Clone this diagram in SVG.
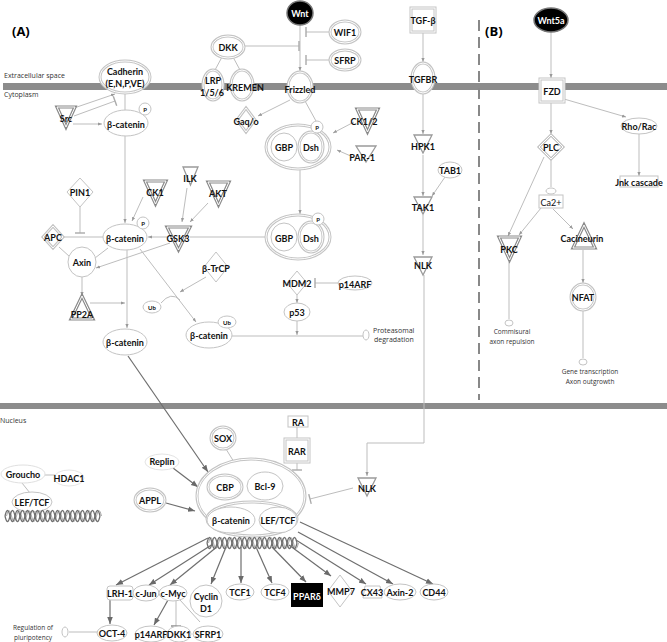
<svg xmlns="http://www.w3.org/2000/svg" width="667" height="642" viewBox="0 0 667 642">
<style>
.t{font-family:Lato,"Liberation Sans",sans-serif;font-weight:bold;font-size:9px;text-anchor:middle;dominant-baseline:central;fill:#111}
.tw{fill:#fff}
.tn{font-weight:normal}
.ts{font-size:6px}
.s{font-family:"Open Sans","Liberation Sans",sans-serif;font-size:6.5px;fill:#333;text-anchor:middle}
.n{fill:#fff;stroke:#c4c4c4;stroke-width:1}
.o{fill:#fff;stroke:#c4c4c4;stroke-width:3}
.i{fill:none;stroke:#fff;stroke-width:1}
.g{fill:#fff;stroke:#8a8a8a;stroke-width:3.2;stroke-linejoin:miter}
.gs{fill:#fff;stroke:#9a9a9a;stroke-width:1.3}
.c{fill:none;stroke:#bdbdbd;stroke-width:1}
.k{fill:none;stroke:#6e6e6e;stroke-width:1.2}
.h{fill:none;stroke:#707070;stroke-width:1.3}
.h2{fill:none;stroke:#a8a8a8;stroke-width:1}
.bar{fill:#8c8c8c}
.lab{font-family:"Open Sans","Liberation Sans",sans-serif;font-size:7px;fill:#333}
</style>
<defs>
<marker id="a" viewBox="0 0 10 10" refX="10" refY="5" markerWidth="4" markerHeight="4" markerUnits="userSpaceOnUse" orient="auto"><path d="M0,1L10,5L0,9z" fill="#999"/></marker>
<marker id="ak" viewBox="0 0 10 10" refX="10" refY="5" markerWidth="7" markerHeight="7" markerUnits="userSpaceOnUse" orient="auto"><path d="M0,1L10,5L0,9z" fill="#6a6a6a"/></marker>
<marker id="b" viewBox="0 0 4 10" refX="2" refY="5" markerWidth="4" markerHeight="11" markerUnits="userSpaceOnUse" orient="auto"><path d="M2,0V10" stroke="#aaa" stroke-width="1.4"/></marker>
<marker id="bk" viewBox="0 0 4 10" refX="2" refY="5" markerWidth="4" markerHeight="11" markerUnits="userSpaceOnUse" orient="auto"><path d="M2,0V10" stroke="#888" stroke-width="1.4"/></marker>
</defs>
<rect width="667" height="642" fill="#fff"/>
<g id="membranes">
<rect class="bar" x="3" y="83" width="664" height="7"/>
<rect class="bar" x="0" y="403" width="667" height="6"/>
<line x1="479" y1="20" x2="479" y2="400" stroke="#888" stroke-width="2" stroke-dasharray="11 6"/>
</g>
<g id="labels">
<text x="12" y="36" font-family="'Open Sans','Liberation Sans',sans-serif" font-weight="bold" font-size="13">(A)</text>
<text x="485" y="36" font-family="'Open Sans','Liberation Sans',sans-serif" font-weight="bold" font-size="13">(B)</text>
<text class="lab" x="4" y="78">Extracellular space</text>
<text class="lab" x="4" y="97">Cytoplasm</text>
<text class="lab" x="0" y="423" font-size="8">Nucleus</text>
</g>
<g id="connectors">
<path class="c" d="M300,25V71" marker-end="url(#a)"/>
<path class="c" d="M331,32H306" marker-end="url(#b)"/>
<path class="c" d="M331,60H306" marker-end="url(#b)"/>
<path class="c" d="M244,46H299" marker-end="url(#b)"/>
<path class="c" d="M222,57L215,70"/>
<path class="c" d="M233,57L240,70"/>
<path class="c" d="M290,100L258,116" marker-end="url(#a)"/>
<path class="c" d="M305,101L316,121"/>
<path class="c" d="M354,122L333,133" marker-end="url(#a)"/>
<path class="c" d="M353,157L337,150" marker-end="url(#a)"/>
<path class="c" d="M300,170V214" marker-end="url(#a)"/>
<path class="c" d="M423,32V62" marker-end="url(#a)"/>
<path class="c" d="M423,93V134" marker-end="url(#a)"/>
<path class="c" d="M423,155V196" marker-end="url(#a)"/>
<path class="c" d="M445,177L432,196" marker-end="url(#a)"/>
<path class="c" d="M423,215V255" marker-end="url(#a)"/>
<path class="c" d="M424,275V443H367V476" marker-end="url(#a)"/>
<path class="c" d="M74,108L115,94" marker-end="url(#a)"/>
<path class="c" d="M74,116L115,101" marker-end="url(#b)"/>
<path class="c" d="M73,124H102" marker-end="url(#a)"/>
<path class="c" d="M125,94V223" marker-end="url(#a)"/>
<path class="c" d="M143,197L132,221" marker-end="url(#a)"/>
<path class="c" d="M187,188L182,222" marker-end="url(#a)"/>
<path class="c" d="M208,203L190,222" marker-end="url(#a)"/>
<path class="c" d="M168,237H148" marker-end="url(#a)"/>
<path class="c" d="M266,237H190"/>
<path class="c" d="M80,207V233" marker-end="url(#b)"/>
<path class="c" d="M63,237H103"/>
<path class="c" d="M59,247L70,257"/>
<path class="c" d="M108,248L95,258"/>
<path class="c" d="M170,243L96,268" marker-end="url(#a)"/>
<path class="c" d="M82,277V296" marker-end="url(#a)"/>
<path class="c" d="M90,303H125" marker-end="url(#a)"/>
<path class="c" d="M127,250V328" marker-end="url(#a)"/>
<path class="c" d="M140,249L196,322" marker-end="url(#a)"/>
<path class="c" d="M206,277L180,292" marker-end="url(#a)"/>
<path class="c" d="M161,303Q171,291 180,300"/>
<path class="c" d="M232,336H363"/>
<path class="c" d="M339,283H315" marker-end="url(#b)"/>
<path class="c" d="M297,295V303" marker-end="url(#a)"/>
<path class="c" d="M297,321V335" marker-end="url(#a)"/>
<path class="k" d="M128,356L208,472" marker-end="url(#ak)"/>
<path class="c" d="M551,32V78" marker-end="url(#a)"/>
<path class="c" d="M564,99L626,117" marker-end="url(#a)"/>
<path class="c" d="M639,134V176" marker-end="url(#a)"/>
<path class="c" d="M551,102V134" marker-end="url(#a)"/>
<path class="c" d="M551,160V187"/>
<path class="c" d="M544,157L508,236" marker-end="url(#a)"/>
<path class="c" d="M541,208L519,235" marker-end="url(#a)"/>
<path class="c" d="M553,209L573,229" marker-end="url(#a)"/>
<path class="c" d="M509,262V319"/>
<path class="c" d="M583,250V283" marker-end="url(#a)"/>
<path class="c" d="M583,310V358"/>
<path class="c" d="M226,449L234,462"/>
<path class="c" d="M297,427V438"/>
<path class="c" d="M297,462V470" marker-end="url(#b)"/>
<path class="c" d="M353,488L310,499" marker-end="url(#b)"/>
<path class="k" d="M173,468L198,487" marker-end="url(#ak)"/>
<path class="k" d="M166,503L195,511" marker-end="url(#ak)"/>
<path class="c" d="M44,475H55"/>
<path class="c" d="M22,483L30,493"/>
<path class="k" d="M208,538L116,585" marker-end="url(#ak)"/>
<path class="k" d="M213,544L149,585" marker-end="url(#ak)"/>
<path class="k" d="M218,546L170,585" marker-end="url(#ak)"/>
<path class="k" d="M226,547L211,584" marker-end="url(#ak)"/>
<path class="k" d="M241,547V583" marker-end="url(#ak)"/>
<path class="k" d="M256,547L272,583" marker-end="url(#ak)"/>
<path class="k" d="M272,547L306,582" marker-end="url(#ak)"/>
<path class="k" d="M289,545L331,576" marker-end="url(#ak)"/>
<path class="k" d="M296,540L366,584" marker-end="url(#ak)"/>
<path class="k" d="M298,532L393,584" marker-end="url(#ak)"/>
<path class="k" d="M300,522L433,584" marker-end="url(#ak)"/>
<path class="k" d="M110,600V624" marker-end="url(#ak)"/>
<path class="k" d="M168,600L154,625" marker-end="url(#ak)"/>
<path class="c" d="M176,601V626" marker-end="url(#bk)"/>
<path class="c" d="M180,600L200,622"/>
<path class="c" d="M69,632H98"/>
</g>
<g id="Wnt"><ellipse cx="300" cy="13" rx="13" ry="12" fill="#000" stroke="#777" stroke-width="1.5"/><text class="t tw" x="300" y="13">Wnt</text></g>
<g id="WIF1"><ellipse class="o" cx="345" cy="32" rx="15" ry="11"/><ellipse class="i" cx="345" cy="32" rx="15" ry="11"/><text class="t" x="345" y="32">WIF1</text></g>
<g id="SFRP"><ellipse class="o" cx="345" cy="60" rx="15" ry="10"/><ellipse class="i" cx="345" cy="60" rx="15" ry="10"/><text class="t" x="345" y="60">SFRP</text></g>
<g id="DKK"><ellipse class="o" cx="228" cy="47" rx="16" ry="11"/><ellipse class="i" cx="228" cy="47" rx="16" ry="11"/><text class="t" x="228" y="47">DKK</text></g>
<g id="LRP"><ellipse class="o" cx="213" cy="85" rx="10" ry="15"/><ellipse class="i" cx="213" cy="85" rx="10" ry="15"/><text class="t" x="213" y="80">LRP</text><text class="t" x="212" y="92">1/5/6</text></g>
<g id="KREMEN"><ellipse class="o" cx="242" cy="85" rx="11" ry="15"/><ellipse class="i" cx="242" cy="85" rx="11" ry="15"/><text class="t" x="245" y="87">KREMEN</text></g>
<g id="Frizzled"><ellipse class="o" cx="300" cy="87" rx="12" ry="15"/><ellipse class="i" cx="300" cy="87" rx="12" ry="15"/><text class="t" x="300" y="89">Frizzled</text></g>
<g id="TGFb"><rect class="o" x="411" y="8" width="24" height="24"/><rect class="i" x="411" y="8" width="24" height="24"/><text class="t" x="423" y="20">TGF-β</text></g>
<g id="TGFBR"><ellipse class="o" cx="423" cy="78" rx="11" ry="15"/><ellipse class="i" cx="423" cy="78" rx="11" ry="15"/><text class="t" x="423" y="79">TGFBR</text></g>
<g id="Gaqo"><polygon class="o" points="246,108 255,120 246,132 237,120"/><polygon class="i" points="246,108 255,120 246,132 237,120"/><text class="t" x="246" y="121">Gaq/o</text></g>
<g id="complex1"><ellipse class="o" cx="298" cy="147" rx="32" ry="22"/><ellipse class="i" cx="298" cy="147" rx="32" ry="22"/><ellipse class="n" cx="284" cy="147" rx="13" ry="14"/><ellipse class="o" cx="311" cy="147" rx="12" ry="15"/><ellipse class="i" cx="311" cy="147" rx="12" ry="15"/><circle class="n" cx="317" cy="127" r="6"/><text class="t ts" x="317" y="127">P</text><text class="t" x="284" y="147">GBP</text><text class="t" x="311" y="147">Dsh</text></g>
<g id="CK12"><polygon class="g" points="357,109 378,109 367.5,132"/><polygon class="i" points="357,109 378,109 367.5,132"/><text class="t" x="364" y="121">CK1/2</text></g>
<g id="PAR1"><polygon class="gs" points="356,146 376,146 366,162"/><text class="t" x="362" y="157">PAR-1</text></g>
<g id="HPK1"><polygon class="gs" points="414,135 432,135 423,153"/><text class="t" x="423" y="146">HPK1</text></g>
<g id="TAB1"><ellipse class="n" cx="450" cy="170" rx="12" ry="8"/><text class="t" x="450" y="170" font-size="8">TAB1</text></g>
<g id="TAK1"><polygon class="gs" points="414,197 432,197 423,214"/><text class="t" x="423" y="207">TAK1</text></g>
<g id="NLK1"><polygon class="gs" points="414,257 432,257 423,275"/><text class="t" x="423" y="265">NLK</text></g>
<g id="complex2"><ellipse class="o" cx="298" cy="237" rx="32" ry="22"/><ellipse class="i" cx="298" cy="237" rx="32" ry="22"/><ellipse class="n" cx="284" cy="237" rx="13" ry="14"/><ellipse class="o" cx="311" cy="237" rx="12" ry="15"/><ellipse class="i" cx="311" cy="237" rx="12" ry="15"/><circle class="n" cx="318" cy="219" r="6"/><text class="t ts" x="318" y="219">P</text><text class="t" x="284" y="238">GBP</text><text class="t" x="311" y="238">Dsh</text></g>
<g id="MDM2"><polygon class="n" points="297,271 307,283 297,295 287,283"/><text class="t" x="297" y="283">MDM2</text></g>
<g id="p14ARF1"><ellipse class="n" cx="355" cy="283" rx="17" ry="7"/><text class="t" x="355" y="284">p14ARF</text></g>
<g id="p53"><ellipse class="n" cx="297" cy="312" rx="13" ry="9"/><text class="t" x="297" y="312">p53</text></g>
<g id="Cadherin"><ellipse class="o" cx="125" cy="77" rx="25" ry="16"/><ellipse class="i" cx="125" cy="77" rx="25" ry="16"/><text class="t" x="125" y="71">Cadherin</text><text class="t" x="125" y="83">(E,N,P,VE)</text></g>
<g id="Src"><polygon class="g" points="57,107 75,107 66,127"/><polygon class="i" points="57,107 75,107 66,127"/><text class="t" x="66" y="118">Src</text></g>
<g id="bcat1"><ellipse class="n" cx="126" cy="123" rx="22" ry="13"/><circle class="n" cx="145" cy="109" r="6"/><text class="t ts" x="145" y="109">P</text><text class="t" x="126" y="124">β-catenin</text></g>
<g id="PIN1"><polygon class="n" points="80,178 93,192 80,207 67,192"/><text class="t" x="80" y="192">PIN1</text></g>
<g id="CK1"><polygon class="g" points="145,181 166,181 155.5,204"/><polygon class="i" points="145,181 166,181 155.5,204"/><text class="t" x="155" y="192">CK1</text></g>
<g id="ILK"><polygon class="gs" points="183,167 198,167 190.5,185"/><text class="t" x="190" y="178">ILK</text></g>
<g id="AKT"><polygon class="g" points="208,182 229,182 218.5,205"/><polygon class="i" points="208,182 229,182 218.5,205"/><text class="t" x="218" y="193">AKT</text></g>
<g id="bcat2"><ellipse class="n" cx="125" cy="237" rx="22" ry="13"/><circle class="n" cx="143" cy="223" r="6"/><text class="t ts" x="143" y="223">P</text><text class="t" x="125" y="238">β-catenin</text></g>
<g id="GSK3"><polygon class="g" points="167,227 190,227 178.5,250"/><polygon class="i" points="167,227 190,227 178.5,250"/><text class="t" x="178" y="238">GSK3</text></g>
<g id="APC"><polygon class="o" points="53,226 63,237 53,248 43,237"/><polygon class="i" points="53,226 63,237 53,248 43,237"/><text class="t" x="53" y="237">APC</text></g>
<g id="Axin"><ellipse class="n" cx="82" cy="262" rx="14" ry="15"/><text class="t" x="82" y="262">Axin</text></g>
<g id="PP2A"><polygon class="g" points="82,296 93,319 71,319"/><polygon class="i" points="82,296 93,319 71,319"/><text class="t" x="82" y="314">PP2A</text></g>
<g id="bTrCP"><polygon class="n" points="216,252 228,267 216,282 204,267"/><text class="t" x="216" y="268">β-TrCP</text></g>
<g id="Ub1"><ellipse class="n" cx="152" cy="307" rx="9" ry="6"/><text class="t ts" x="152" y="307">Ub</text></g>
<g id="bcat3"><ellipse class="n" cx="125" cy="342" rx="22" ry="13"/><text class="t" x="125" y="342">β-catenin</text></g>
<g id="bcat4"><ellipse class="n" cx="209" cy="335" rx="23" ry="13"/><ellipse class="n" cx="227" cy="322" rx="9" ry="6"/><text class="t ts" x="227" y="322">Ub</text><text class="t" x="209" y="335">β-catenin</text></g>
<g id="proteasome"><ellipse class="n" cx="366" cy="335" rx="3" ry="5"/><text class="lab" x="373" y="333">Proteasomal</text><text class="lab" x="374" y="342">degradation</text></g>
<g id="Wnt5a"><ellipse cx="551" cy="20" rx="17" ry="12" fill="#000" stroke="#777" stroke-width="1.5"/><text class="t tw" x="551" y="20">Wnt5a</text></g>
<g id="FZD"><rect class="o" x="540" y="79" width="24" height="23"/><rect class="i" x="540" y="79" width="24" height="23"/><text class="t" x="552" y="91">FZD</text></g>
<g id="RhoRac"><ellipse class="n" cx="639" cy="126" rx="18" ry="8"/><text class="t" x="639" y="126">Rho/Rac</text></g>
<g id="Jnk"><rect class="n" x="620" y="176" width="38" height="11"/><text class="t" x="639" y="182">Jnk cascade</text></g>
<g id="PLC"><polygon class="o" points="551,135 563,147 551,159 539,147"/><polygon class="i" points="551,135 563,147 551,159 539,147"/><text class="t" x="551" y="147">PLC</text></g>
<g id="Ca2"><ellipse class="n" cx="551" cy="191" rx="5" ry="3"/><rect class="n" x="539" y="195" width="24" height="13"/><text class="t tn" x="551" y="202">Ca2+</text></g>
<g id="PKC"><polygon class="g" points="499,237 520,237 509.5,260"/><polygon class="i" points="499,237 520,237 509.5,260"/><text class="t" x="509" y="249">PKC</text></g>
<g id="Calcineurin"><polygon class="g" points="584,225 595,248 573,248"/><polygon class="i" points="584,225 595,248 573,248"/><text class="t" x="582" y="238">Cacineurin</text></g>
<g id="axonrep"><ellipse class="n" cx="509" cy="323" rx="4" ry="3"/><text class="s" x="512" y="334">Commisural</text><text class="s" x="512" y="344">axon repulsion</text></g>
<g id="NFAT"><ellipse class="o" cx="583" cy="297" rx="12" ry="13"/><ellipse class="i" cx="583" cy="297" rx="12" ry="13"/><text class="t" x="583" y="297">NFAT</text></g>
<g id="genetx"><ellipse class="n" cx="583" cy="362" rx="4" ry="3"/><text class="s" x="590" y="374">Gene transcription</text><text class="s" x="590" y="384">Axon outgrowth</text></g>
<g id="ncomplex"><ellipse class="o" cx="251" cy="496" rx="54" ry="37"/><ellipse class="i" cx="251" cy="496" rx="54" ry="37"/><ellipse class="o" cx="225" cy="487" rx="17" ry="12"/><ellipse class="i" cx="225" cy="487" rx="17" ry="12"/><text class="t" x="225" y="487">CBP</text><ellipse class="n" cx="265" cy="486" rx="18" ry="14"/><text class="t" x="265" y="486">Bcl-9</text><ellipse class="o" cx="252" cy="519" rx="45" ry="17"/><ellipse class="i" cx="252" cy="519" rx="45" ry="17"/><ellipse class="n" cx="231" cy="520" rx="24" ry="13"/><text class="t" x="231" y="520">β-catenin</text><ellipse class="n" cx="278" cy="520" rx="19" ry="13"/><text class="t" x="278" y="520">LEF/TCF</text>
<path class="h2" d="M208.5,543q2.5,-11 5,0t5,0t5,0t5,0t5,0t5,0t5,0t5,0t5,0t5,0t5,0t5,0t5,0t5,0t5,0t5,0t5,0t5,0"/><path class="h" d="M207,543q2.5,-11 5,0t5,0t5,0t5,0t5,0t5,0t5,0t5,0t5,0t5,0t5,0t5,0t5,0t5,0t5,0t5,0t5,0t5,0"/><path class="h" d="M207,543q2.5,11 5,0t5,0t5,0t5,0t5,0t5,0t5,0t5,0t5,0t5,0t5,0t5,0t5,0t5,0t5,0t5,0t5,0t5,0"/></g>
<g id="SOX"><ellipse class="o" cx="223" cy="438" rx="12" ry="11"/><ellipse class="i" cx="223" cy="438" rx="12" ry="11"/><text class="t" x="223" y="438">SOX</text></g>
<g id="RA"><rect class="n" x="288" y="416" width="20" height="11"/><text class="t" x="298" y="422">RA</text></g>
<g id="RAR"><rect class="o" x="285" y="439" width="24" height="23"/><rect class="i" x="285" y="439" width="24" height="23"/><text class="t" x="297" y="451">RAR</text></g>
<g id="NLK2"><polygon class="gs" points="358,478 376,478 367,496"/><text class="t" x="367" y="488">NLK</text></g>
<g id="Replin"><ellipse cx="162" cy="462" rx="17" ry="8" fill="#fff" stroke="#e4e4e4"/><text class="t" x="162" y="461">Replin</text></g>
<g id="APPL"><ellipse class="o" cx="150" cy="500" rx="15" ry="11"/><ellipse class="i" cx="150" cy="500" rx="15" ry="11"/><text class="t" x="150" y="500">APPL</text></g>
<g id="Groucho"><ellipse cx="23" cy="474" rx="22" ry="9" fill="#fff" stroke="#e0e0e0"/><text class="t" x="23" y="474">Groucho</text></g>
<g id="HDAC1"><ellipse cx="69" cy="478" rx="15" ry="8" fill="#fff" stroke="#e6e6e6"/><text class="t" x="69" y="478">HDAC1</text></g>
<g id="LEFTCF1"><ellipse class="n" cx="32" cy="502" rx="20" ry="10"/><text class="t" x="32" y="502">LEF/TCF</text></g>
<g id="DNA1"><path class="h2" d="M6.5,516q2.5,-11 5,0t5,0t5,0t5,0t5,0t5,0t5,0t5,0t5,0t5,0t5,0t5,0t5,0t5,0t5,0t5,0t5,0t5,0t5,0"/><path class="h" d="M5,516q2.5,-11 5,0t5,0t5,0t5,0t5,0t5,0t5,0t5,0t5,0t5,0t5,0t5,0t5,0t5,0t5,0t5,0t5,0t5,0t5,0"/><path class="h" d="M5,516q2.5,11 5,0t5,0t5,0t5,0t5,0t5,0t5,0t5,0t5,0t5,0t5,0t5,0t5,0t5,0t5,0t5,0t5,0t5,0t5,0"/></g>
<g id="LRH1"><rect class="n" x="107" y="586" width="26" height="14" rx="3"/><text class="t" x="120" y="593">LRH-1</text></g>
<g id="cJun"><ellipse class="n" cx="146" cy="593" rx="13" ry="8"/><text class="t" x="146" y="593">c-Jun</text></g>
<g id="cMyc"><ellipse class="n" cx="173" cy="593" rx="14" ry="8"/><text class="t" x="173" y="593">c-Myc</text></g>
<g id="CyclinD1"><ellipse class="n" cx="206" cy="601" rx="16" ry="16"/><text class="t" x="206" y="596">Cyclin</text><text class="t" x="206" y="608">D1</text></g>
<g id="TCF1"><ellipse class="n" cx="240" cy="592" rx="14" ry="8"/><text class="t" x="240" y="592">TCF1</text></g>
<g id="TCF4"><ellipse class="n" cx="275" cy="592" rx="14" ry="8"/><text class="t" x="275" y="592">TCF4</text></g>
<g id="PPARd"><rect x="291" y="583" width="32" height="24" fill="#000"/><text class="t tw" x="307" y="596">PPARδ</text></g>
<g id="MMP7"><polygon class="n" points="340,575 352,591 340,607 328,591"/><text class="t" x="341" y="591">MMP7</text></g>
<g id="CX43"><polygon class="n" points="365,586 380,586 382,598 363,598"/><text class="t" x="372" y="592">CX43</text></g>
<g id="Axin2"><ellipse class="n" cx="400" cy="592" rx="16" ry="8"/><text class="t" x="400" y="592">Axin-2</text></g>
<g id="CD44"><ellipse class="n" cx="434" cy="592" rx="14" ry="8"/><text class="t" x="434" y="592">CD44</text></g>
<g id="OCT4"><ellipse class="n" cx="112" cy="633" rx="15" ry="8"/><text class="t" x="112" y="633">OCT-4</text></g>
<g id="p14ARF2"><ellipse class="n" cx="151" cy="634" rx="16" ry="8"/><text class="t" x="151" y="634" font-size="8.5">p14ARF</text></g>
<g id="DKK1"><ellipse class="n" cx="179" cy="634" rx="12" ry="8"/><text class="t" x="179" y="634" font-size="8.5">DKK1</text></g>
<g id="SFRP1"><ellipse class="n" cx="208" cy="634" rx="15" ry="8"/><text class="t" x="208" y="634">SFRP1</text></g>
<g id="pluri"><ellipse class="n" cx="65" cy="632" rx="3" ry="5"/><text class="s" x="33" y="630">Regulation of</text><text class="s" x="33" y="640">pluripotency</text></g>
</svg>
